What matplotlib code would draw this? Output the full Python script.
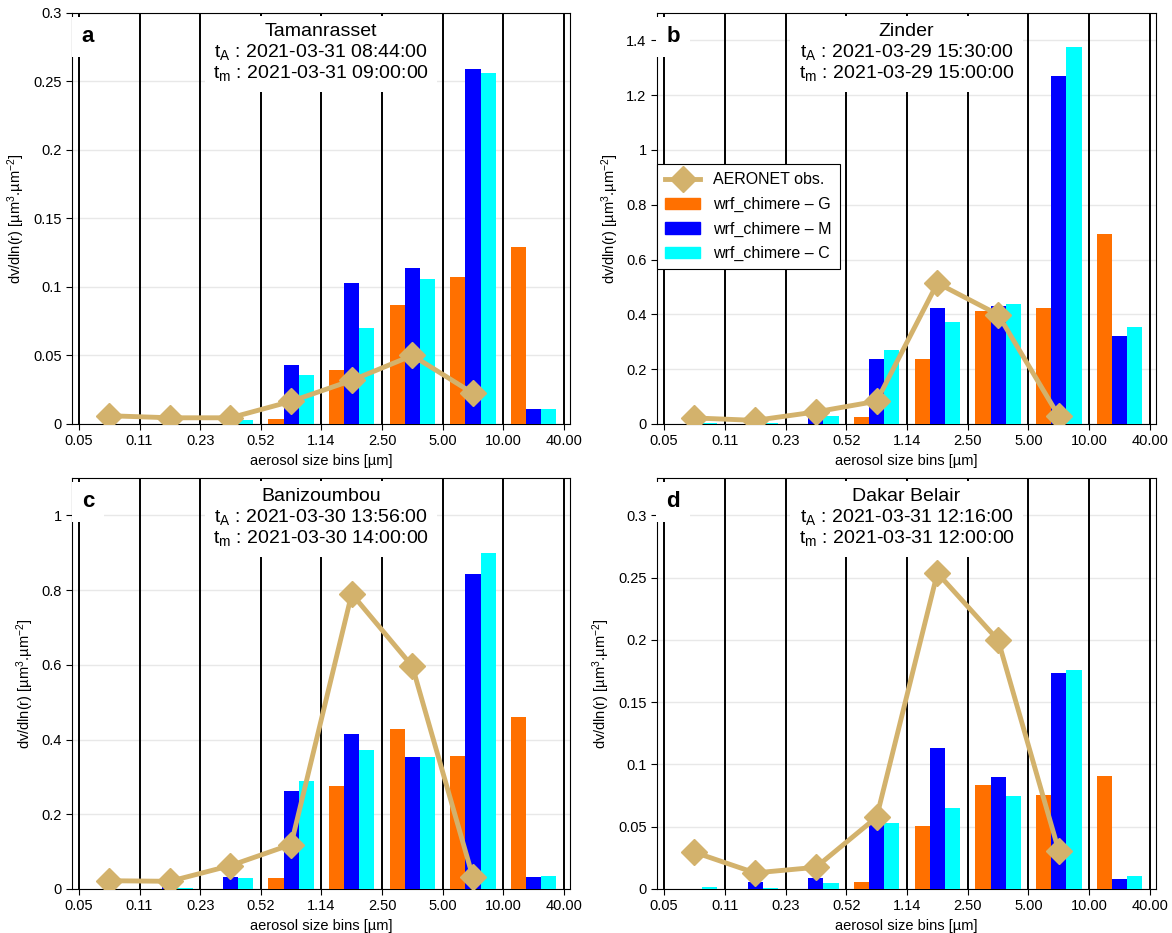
import numpy as np
import matplotlib
matplotlib.use('Agg')
import matplotlib.pyplot as plt
from matplotlib.lines import Line2D
from matplotlib.patches import Patch

plt.rcParams['font.family'] = ['Liberation Sans', 'DejaVu Sans']
plt.rcParams['mathtext.fontset'] = 'custom'
plt.rcParams['mathtext.rm'] = 'Liberation Sans'
plt.rcParams['mathtext.it'] = 'Liberation Sans:italic'
plt.rcParams['mathtext.bf'] = 'Liberation Sans:bold'

# bin edges (labels on x axis)
edges = ['0.05', '0.11', '0.23', '0.52', '1.14', '2.50', '5.00', '10.00', '40.00']

# panel a - Tamanrasset
aeronet_a = [0.006, 0.0045, 0.0045, 0.0165, 0.0318, 0.050, 0.0224]
g_a = [0, 0, 0, 0.0037, 0.0397, 0.087, 0.107, 0.129]
m_a = [0, 0.0008, 0.0008, 0.0428, 0.103, 0.114, 0.259, 0.0112]
c_a = [0, 0.0002, 0.0027, 0.0358, 0.070, 0.106, 0.2565, 0.0107]

# panel b - Zinder
aeronet_b = [0.022, 0.013, 0.044, 0.083, 0.514, 0.399, 0.028]
g_b = [0, 0, 0, 0.0255, 0.238, 0.411, 0.423, 0.693]
m_b = [0, 0.002, 0.03, 0.237, 0.422, 0.430, 1.269, 0.322]
c_b = [0.002, 0.003, 0.028, 0.271, 0.371, 0.438, 1.374, 0.355]

# panel c - Banizoumbou
aeronet_c = [0.022, 0.0205, 0.0625, 0.119, 0.790, 0.596, 0.031]
g_c = [0, 0, 0, 0.0286, 0.276, 0.429, 0.355, 0.461]
m_c = [0, 0.005, 0.033, 0.263, 0.416, 0.354, 0.844, 0.033]
c_c = [0.001, 0.002, 0.0295, 0.288, 0.371, 0.354, 0.900, 0.036]

# panel d - Dakar Belair
aeronet_d = [0.0295, 0.0129, 0.0174, 0.0576, 0.2537, 0.1998, 0.0303]
g_d = [0, 0, 0, 0.0056, 0.0504, 0.0833, 0.0758, 0.0905]
m_d = [0, 0.0056, 0.0091, 0.053, 0.113, 0.090, 0.1736, 0.008]
c_d = [0.0016, 0.001, 0.0051, 0.0528, 0.0654, 0.0745, 0.176, 0.0107]

sites = ['Tamanrasset', 'Zinder', 'Banizoumbou', 'Dakar Belair']
letters = ['a', 'b', 'c', 'd']
t_aeronet = ['2021-03-31 08:44:00', '2021-03-29 15:30:00',
             '2021-03-30 13:56:00', '2021-03-31 12:16:00']
t_model = ['2021-03-31 09:00:00', '2021-03-29 15:00:00',
           '2021-03-30 14:00:00', '2021-03-31 12:00:00']
ylims = [0.3, 1.5, 1.1, 0.33]
yticks = [np.arange(0, 0.31, 0.05), np.arange(0, 1.41, 0.2),
          np.arange(0, 1.01, 0.2), np.arange(0, 0.31, 0.05)]

obs = [aeronet_a, aeronet_b, aeronet_c, aeronet_d]
mod_g = [g_a, g_b, g_c, g_d]
mod_m = [m_a, m_b, m_c, m_d]
mod_c = [c_a, c_b, c_c, c_d]

col_obs = '#d3b26c'
col_g = '#ff7000'
col_m = '#0000ff'
col_c = '#00ffff'

fig = plt.figure(figsize=(11.72, 9.33), dpi=100)
boxes = [[0.0614, 0.5456, 0.4249, 0.4405], [0.5606, 0.5456, 0.4258, 0.4405],
         [0.0614, 0.0472, 0.4249, 0.4405], [0.5606, 0.0472, 0.4258, 0.4405]]

for k in range(4):
    ax = fig.add_axes(boxes[k])
    nb = len(mod_g[k])
    x = np.arange(nb) + 0.5
    w = 0.25
    ax.bar(x - w, mod_g[k], w, color=col_g, zorder=3)
    ax.bar(x, mod_m[k], w, color=col_m, zorder=3)
    ax.bar(x + w, mod_c[k], w, color=col_c, zorder=3)
    xo = np.arange(len(obs[k])) + 0.5
    ax.plot(xo, obs[k], color=col_obs, lw=3.5, marker='D', ms=13, zorder=5)

    for i in range(len(edges)):
        ax.axvline(i, color='black', lw=1.4, zorder=1)
    ax.set_xlim(-0.115, 8.1)
    ax.set_ylim(0, ylims[k])
    ax.set_xticks(range(len(edges)))
    ax.set_xticklabels(edges, fontsize=10.5)
    ax.set_yticks(yticks[k])
    ax.set_yticklabels(['%g' % round(v, 2) for v in yticks[k]], fontsize=10.5)
    ax.grid(axis='y', color='#e8e8e8', lw=1, zorder=0)
    ax.set_axisbelow(True)
    ax.tick_params(direction='out', length=4, width=0.8)
    for s in ax.spines.values():
        s.set_linewidth(0.8)
    ax.set_xlabel('aerosol size bins [µm]', fontsize=10.5)
    ax.set_ylabel('dv/dln(r) [µm$^{3}$.µm$^{-2}$]', fontsize=10.5)

    ax.text(0.032, 0.942, letters[k], transform=ax.transAxes, fontsize=16,
            fontweight='bold', ha='center', va='center', zorder=6,
            bbox=dict(facecolor='white', edgecolor='none', pad=7))
    label = sites[k] + '\n' + 't$_\\mathrm{A}$ : ' + t_aeronet[k] + \
        '\n' + 't$_\\mathrm{m}$ : ' + t_model[k]
    ax.text(0.5, 0.902, label, transform=ax.transAxes, fontsize=14,
            ha='center', va='center', multialignment='center', zorder=6,
            linespacing=1.1,
            bbox=dict(facecolor='white', edgecolor='none', pad=6))

    if k == 1:
        handles = [Line2D([0], [0], color=col_obs, lw=3.5, marker='D', ms=13),
                   Patch(color=col_g), Patch(color=col_m), Patch(color=col_c)]
        names = ['AERONET obs.', 'wrf_chimere – G', 'wrf_chimere – M',
                 'wrf_chimere – C']
        leg = ax.legend(handles, names, loc='upper left',
                        bbox_to_anchor=(0.0, 0.632), borderaxespad=0,
                        fontsize=11.5, fancybox=False, framealpha=1,
                        edgecolor='black', handlelength=2.2, borderpad=0.5,
                        labelspacing=0.6)
        leg.get_frame().set_linewidth(0.8)
        leg.set_zorder(7)

fig.savefig('out.png', dpi=100)
plt.close()
